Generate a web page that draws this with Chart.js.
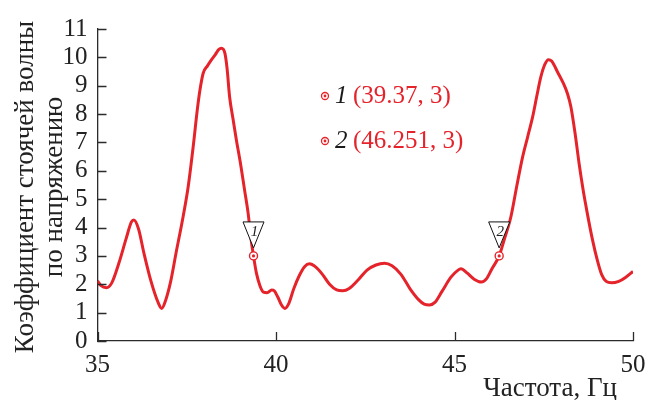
<!DOCTYPE html>
<html>
<head>
<meta charset="utf-8">
<title>КСВН</title>
<script src="https://cdn.jsdelivr.net/npm/chart.js@4/dist/chart.umd.min.js"></script>
<style>
  html, body { margin: 0; padding: 0; background: #ffffff; }
  #wrap { width: 648px; height: 400px; }
</style>
</head>
<body>
<div id="wrap"><canvas id="c" width="648" height="400"></canvas></div>
<script>
// Frequency, Hz
const freq = [
  35.0, 35.1, 35.25, 35.4, 35.6, 35.8, 35.95, 36.02, 36.15, 36.3,
  36.5, 36.7, 36.8, 36.9, 37.05, 37.2, 37.4, 37.54, 37.68, 37.8,
  37.87, 37.96, 38.08, 38.19, 38.3, 38.4, 38.47, 38.57, 38.63, 38.7,
  38.8, 38.89, 39.0, 39.12, 39.22, 39.3, 39.37, 39.45, 39.55, 39.65,
  39.75, 39.88, 39.95, 40.05, 40.15, 40.25, 40.35, 40.5, 40.65, 40.8,
  40.94, 41.1, 41.3, 41.5, 41.7, 41.87, 42.05, 42.3, 42.55, 42.8,
  43.04, 43.25, 43.5, 43.75, 44.0, 44.15, 44.3, 44.45, 44.65, 44.9,
  45.1, 45.18, 45.35, 45.55, 45.75, 45.9, 46.05, 46.251, 46.4, 46.58,
  46.75, 46.91, 47.05, 47.19, 47.3, 47.42, 47.53, 47.63, 47.72, 47.9,
  48.07, 48.17, 48.26, 48.38, 48.49, 48.6, 48.72, 48.86, 49.0, 49.12,
  49.25, 49.4, 49.6, 49.8, 50.0
];
// Voltage standing wave ratio
const vswr = [
  2.12, 1.95, 1.88, 2.05, 2.75, 3.6, 4.2, 4.27, 3.95, 3.1,
  2.1, 1.35, 1.15, 1.4, 2.1, 3.1, 4.4, 5.44, 6.85, 8.2,
  8.85, 9.44, 9.7, 9.91, 10.1, 10.28, 10.32, 10.14, 9.6, 8.61,
  7.8, 7.09, 6.3, 5.32, 4.5, 3.6, 3.0, 2.4, 1.95, 1.72,
  1.7, 1.8, 1.77, 1.55, 1.28, 1.15, 1.3, 1.85, 2.3, 2.62,
  2.72, 2.62, 2.35, 2.0, 1.8, 1.77, 1.85, 2.15, 2.5, 2.68,
  2.74, 2.65, 2.35, 1.85, 1.45, 1.3, 1.27, 1.36, 1.75, 2.25,
  2.5, 2.55, 2.4, 2.18, 2.08, 2.2, 2.55, 3.0, 3.6, 4.38,
  5.5, 6.5, 7.2, 7.91, 8.6, 9.32, 9.75, 9.92, 9.87, 9.45,
  9.03, 8.7, 8.26, 7.3, 6.26, 5.35, 4.5, 3.6, 2.85, 2.35,
  2.1, 2.05, 2.1, 2.25, 2.45
];
// Marked points
const markerIds = ['1', '2'];
const markerFreq = [39.37, 46.251];
const markerVswr = [3, 3];
// Axis ticks
const xTicks = [35, 40, 45, 50];
const yTicks = [0, 1, 2, 3, 4, 5, 6, 7, 8, 9, 10, 11];

const RED = '#e5232b';
const AXIS = '#2b2b2b';
const SERIF = "'Liberation Serif'";

const curve = freq.map((f, i) => ({ x: f, y: vswr[i] }));
const marks = markerFreq.map((f, i) => ({ x: f, y: markerVswr[i] }));

// Inward tick marks, triangle flags, marker list and axis titles
const decor = {
  id: 'decor',
  afterDatasetsDraw(chart) {
    const { ctx, chartArea: a, scales: { x, y } } = chart;
    ctx.save();

    // inward ticks
    ctx.strokeStyle = AXIS;
    ctx.lineWidth = 1.3;
    ctx.beginPath();
    yTicks.forEach(v => {
      const py = Math.round(y.getPixelForValue(v)) + 0.5;
      ctx.moveTo(a.left, py);
      ctx.lineTo(a.left + 9, py);
    });
    xTicks.forEach(v => {
      const px = Math.round(x.getPixelForValue(v)) + 0.5;
      ctx.moveTo(px, a.bottom);
      ctx.lineTo(px, a.bottom - 9);
    });
    ctx.stroke();

    // triangle flags above marked points
    markerFreq.forEach((f, i) => {
      const px = x.getPixelForValue(f);
      const py = y.getPixelForValue(markerVswr[i]);
      const tip = py - 8, top = py - 34, hw = 10.5;
      ctx.beginPath();
      ctx.moveTo(px - hw, top);
      ctx.lineTo(px + hw, top);
      ctx.lineTo(px, tip);
      ctx.closePath();
      ctx.fillStyle = '#ffffff';
      ctx.fill();
      ctx.strokeStyle = '#111111';
      ctx.lineWidth = 1;
      ctx.stroke();
      ctx.fillStyle = '#222222';
      ctx.font = 'italic 15px ' + SERIF;
      ctx.textAlign = 'center';
      ctx.textBaseline = 'alphabetic';
      ctx.fillText(markerIds[i], px + 1, top + 14);
    });

    // marker list
    const rows = [103, 148];
    markerFreq.forEach((f, i) => {
      const base = rows[i];
      const cy = base - 7;
      ctx.beginPath();
      ctx.arc(325, cy, 3.5, 0, Math.PI * 2);
      ctx.fillStyle = '#ffffff';
      ctx.fill();
      ctx.strokeStyle = RED;
      ctx.lineWidth = 1.3;
      ctx.stroke();
      ctx.beginPath();
      ctx.arc(325, cy, 1.4, 0, Math.PI * 2);
      ctx.fillStyle = RED;
      ctx.fill();

      ctx.textAlign = 'left';
      ctx.textBaseline = 'alphabetic';
      ctx.font = 'italic 25px ' + SERIF;
      ctx.fillStyle = '#1a1a1a';
      ctx.fillText(markerIds[i], 335, base);
      ctx.font = '25px ' + SERIF;
      ctx.fillStyle = RED;
      ctx.fillText('(' + f + ', ' + markerVswr[i] + ')', 353, base);
    });

    // axis titles
    ctx.fillStyle = '#222222';
    ctx.font = '27px ' + SERIF;
    ctx.textAlign = 'right';
    ctx.textBaseline = 'alphabetic';
    ctx.fillText('Частота, Гц', 617, 396);

    const cy = (a.top + a.bottom) / 2 + 2;
    ctx.textAlign = 'center';
    [['Коэффициент стоячей волны', 33], ['по напряжению', 62]].forEach(([t, bx]) => {
      ctx.save();
      ctx.translate(bx, cy);
      ctx.rotate(-Math.PI / 2);
      ctx.fillText(t, 0, 0);
      ctx.restore();
    });

    ctx.restore();
  }
};

Chart.defaults.font.family = SERIF;

new Chart(document.getElementById('c'), {
  type: 'line',
  data: {
    datasets: [
      {
        label: 'КСВН',
        data: curve,
        borderColor: RED,
        borderWidth: 3,
        pointRadius: 0,
        fill: false,
        cubicInterpolationMode: 'monotone',
        order: 2
      },
      {
        label: 'ring',
        data: marks,
        showLine: false,
        pointRadius: 4,
        pointBackgroundColor: '#ffffff',
        pointBorderColor: RED,
        pointBorderWidth: 1.4,
        order: 1
      },
      {
        label: 'dot',
        data: marks,
        showLine: false,
        pointRadius: 1.6,
        pointBorderWidth: 0,
        pointBackgroundColor: RED,
        order: 0
      }
    ]
  },
  options: {
    responsive: false,
    animation: false,
    devicePixelRatio: 1,
    layout: { padding: { top: 29, right: 15, left: 0, bottom: 0 } },
    plugins: { legend: { display: false }, tooltip: { enabled: false } },
    scales: {
      x: {
        type: 'linear',
        min: 35,
        max: 50,
        afterBuildTicks: s => { s.ticks = xTicks.map(v => ({ value: v })); },
        afterFit: s => { s.height = 59; s.paddingLeft = 0; s.paddingRight = 0; },
        grid: { drawOnChartArea: false, drawTicks: false },
        border: { display: true, color: AXIS, width: 1.3 },
        ticks: {
          color: '#222222',
          padding: 9,
          maxRotation: 0,
          autoSkip: false,
          font: { family: SERIF, size: 25 }
        }
      },
      y: {
        min: 0,
        max: 11,
        afterBuildTicks: s => { s.ticks = yTicks.map(v => ({ value: v })); },
        afterFit: s => { s.width = 97.5; s.paddingTop = 0; s.paddingBottom = 0; },
        grid: { drawOnChartArea: false, drawTicks: false },
        border: { display: true, color: AXIS, width: 1.3 },
        ticks: {
          color: '#222222',
          padding: 10,
          autoSkip: false,
          font: { family: SERIF, size: 25 }
        }
      }
    }
  },
  plugins: [decor]
});
</script>
</body>
</html>
